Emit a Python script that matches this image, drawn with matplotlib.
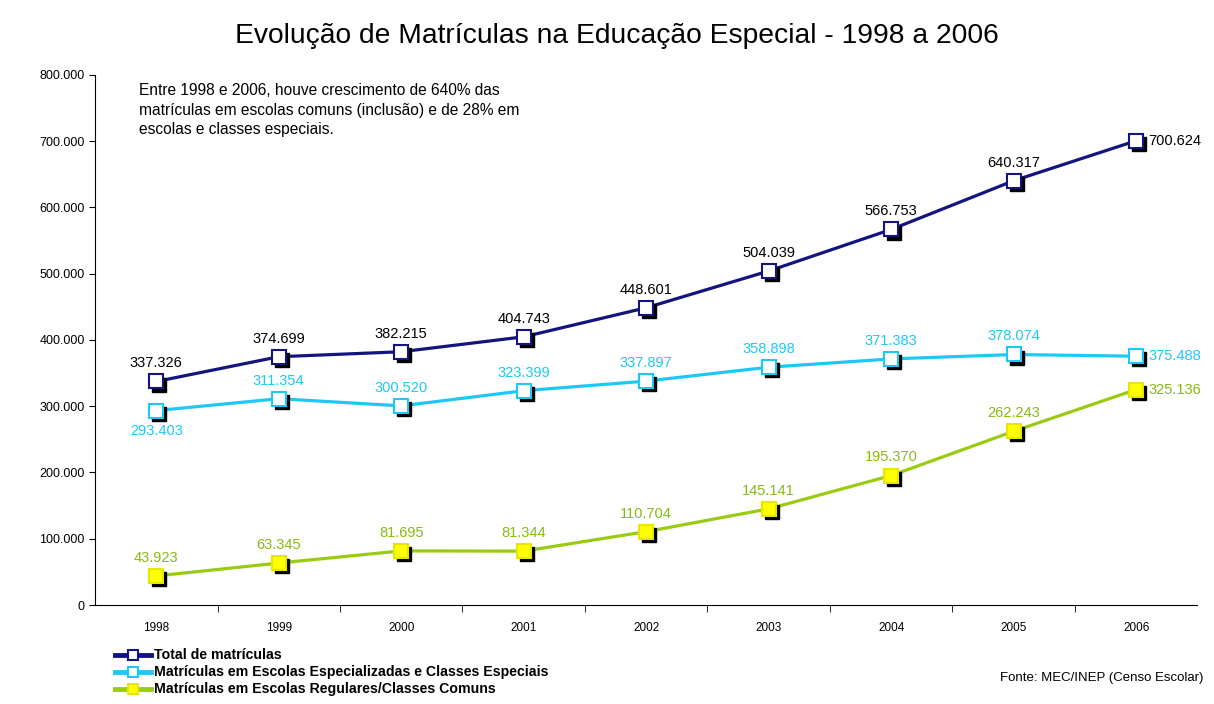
import matplotlib.pyplot as plt
import matplotlib.transforms as mtransforms

plt.rcParams['font.family'] = ['Liberation Sans', 'DejaVu Sans']

years = ["1998", "1999", "2000", "2001", "2002", "2003", "2004", "2005", "2006"]
total = [337326, 374699, 382215, 404743, 448601, 504039, 566753, 640317, 700624]
especiais = [293403, 311354, 300520, 323399, 337897, 358898, 371383, 378074, 375488]
comuns = [43923, 63345, 81695, 81344, 110704, 145141, 195370, 262243, 325136]

labels = ["Total de matrículas",
          "Matrículas em Escolas Especializadas e Classes Especiais",
          "Matrículas em Escolas Regulares/Classes Comuns"]


def fmt(v):
  return f"{v:,}".replace(",", ".")


fig = plt.figure(figsize=(12.14, 7.04), dpi=100)
ax = fig.add_axes([0.0783, 0.1406, 0.908, 0.753])

x = list(range(len(years)))
series = [
  (total, "#14147e", "white", "#14147e", "black"),
  (especiais, "#1ec8f5", "white", "#1ec8f5", "#1ec8f5"),
  (comuns, "#99cc11", "#ffff00", "#e6e600", "#88bb11"),
]

shadow = mtransforms.offset_copy(ax.transData, fig=fig, x=2.2, y=-2.2, units="points")
handles = []
for vals, lc, mfc, mec, tc in series:
  ax.plot(x, vals, color=lc, lw=2.3, zorder=2)
  ax.plot(x, vals, ls="none", marker="s", ms=9.5, color="black", transform=shadow, zorder=3)
  ax.plot(x, vals, ls="none", marker="s", ms=9.5, mfc=mfc, mec=mec, mew=1.5, zorder=4)
  handles.append((lc, mfc, mec))
  for i, v in enumerate(vals):
    if i == len(vals) - 1:
      ax.annotate(fmt(v), (i, v), xytext=(9, 0), textcoords="offset points",
                  ha="left", va="center", fontsize=10.5, color=tc)
    elif vals is especiais and i == 0:
      ax.annotate(fmt(v), (i, v), xytext=(0, -10), textcoords="offset points",
                  ha="center", va="top", fontsize=10.5, color=tc)
    else:
      ax.annotate(fmt(v), (i, v), xytext=(0, 8), textcoords="offset points",
                  ha="center", va="bottom", fontsize=10.5, color=tc)

ax.set_xlim(-0.5, len(years) - 0.5)
ax.set_ylim(0, 800000)
ax.set_yticks(range(0, 800001, 100000))
ax.set_yticklabels([fmt(v) for v in range(0, 800001, 100000)], fontsize=9)
ax.set_xticks(x)
ax.set_xticklabels(years, fontsize=8.5)
ax.set_xticks([i + 0.5 for i in x[:-1]], minor=True)
ax.tick_params(axis="x", which="major", length=0, pad=12)
ax.tick_params(axis="x", which="minor", length=5, direction="out")
ax.tick_params(axis="y", length=4)
ax.spines["top"].set_visible(False)
ax.spines["right"].set_visible(False)

fig.suptitle("Evolução de Matrículas na Educação Especial - 1998 a 2006",
             fontsize=20.3, x=0.508, y=0.968)

ax.text(0.04, 0.985, "Entre 1998 e 2006, houve crescimento de 640% das\n"
        "matrículas em escolas comuns (inclusão) e de 28% em\n"
        "escolas e classes especiais.", transform=ax.transAxes,
        ha="left", va="top", fontsize=11.2, linespacing=1.4)

# legend drawn by hand below the axes
for k, (lab, (lc, mfc, mec)) in enumerate(zip(labels, handles)):
  yy = 0.070 - k * 0.024
  fig.add_artist(plt.Line2D([0.095, 0.1095, 0.124], [yy, yy, yy], color=lc, lw=3.5,
                            marker="s", markevery=[1], ms=7, mfc=mfc, mec=mec, mew=1.5,
                            transform=fig.transFigure))
  fig.text(0.127, yy, lab, ha="left", va="center", fontsize=10.2, fontweight="bold")

fig.text(0.991, 0.037, "Fonte: MEC/INEP (Censo Escolar)", ha="right", va="center", fontsize=9.5)

fig.savefig("out.png", dpi=100)
